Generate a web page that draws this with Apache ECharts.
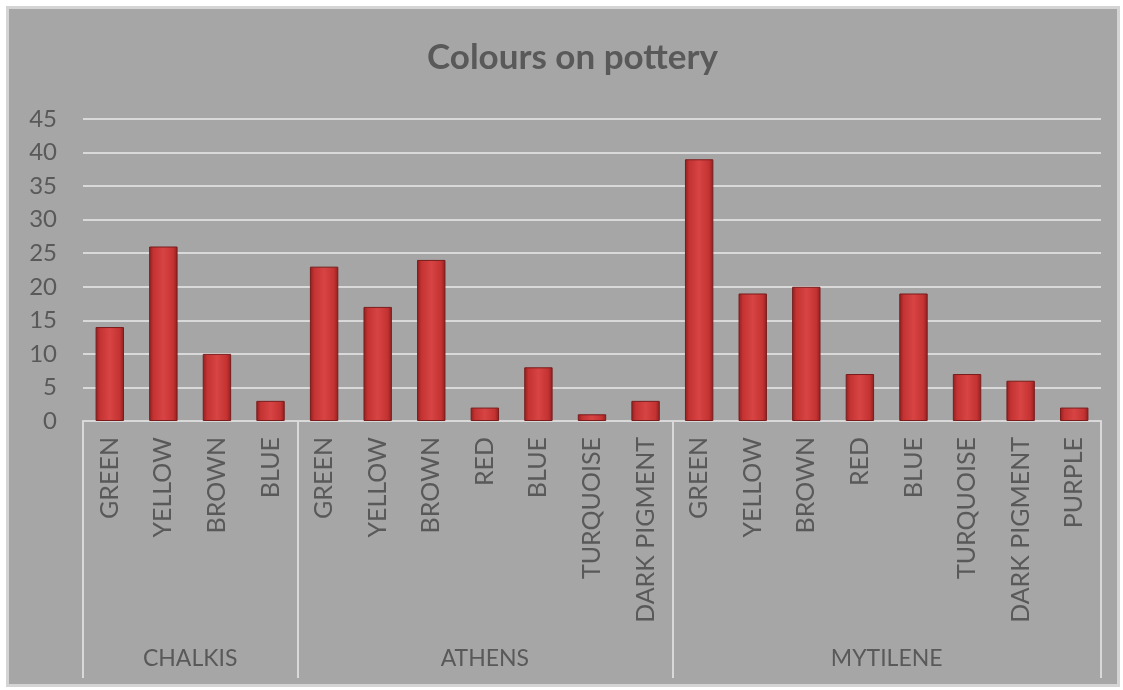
<!DOCTYPE html>
<html>
<head>
<meta charset="utf-8">
<script src="https://cdn.jsdelivr.net/npm/echarts@6/dist/echarts.min.js"></script>
<style>
  html, body { margin: 0; padding: 0; background: #fff; }
  #chart {
    position: absolute; left: 6px; top: 6px;
    width: 1108px; height: 675px;
    border: 3px solid #d4d4d4;
  }
</style>
</head>
<body>
<div id="chart"></div>
<script>
// groups on the bottom axis
var groups = ['CHALKIS', 'ATHENS', 'MYTILENE'];
var groupSizes = [4, 7, 8];

// colours found, per site (flattened, in group order)
var categories = [
  'GREEN', 'YELLOW', 'BROWN', 'BLUE',
  'GREEN', 'YELLOW', 'BROWN', 'RED', 'BLUE', 'TURQUOISE', 'DARK PIGMENT',
  'GREEN', 'YELLOW', 'BROWN', 'RED', 'BLUE', 'TURQUOISE', 'DARK PIGMENT', 'PURPLE'
];
var values = [
  14, 26, 10, 3,
  23, 17, 24, 2, 8, 1, 3,
  39, 19, 20, 7, 19, 7, 6, 2
];

// group boundaries and centres on a 0..N scale
var bounds = [0];
var centres = [];
groupSizes.forEach(function (n, i) {
  centres.push(bounds[i] + n / 2);
  bounds.push(bounds[i] + n);
});

var chartDom = document.getElementById('chart');
var myChart = echarts.init(chartDom);
var font = 'Lato, "Open Sans", sans-serif';
var txt = '#595959';
var light = '#d9d9d9';

var option = {
  backgroundColor: '#a6a6a6',
  animation: false,
  title: {
    text: 'Colours on pottery',
    left: 413,
    top: 26,
    padding: 5,
    textStyle: { fontFamily: font, fontSize: 35, fontWeight: 'bold', color: txt }
  },
  grid: { left: 74, right: 16, top: 110, bottom: 263 },
  xAxis: [
    {
      type: 'category',
      data: categories,
      axisLine: { lineStyle: { color: light, width: 2 } },
      axisTick: { show: false },
      axisLabel: {
        interval: 0,
        rotate: 90,
        margin: 16,
        fontFamily: font,
        fontSize: 25,
        color: txt
      }
    },
    {
      type: 'value',
      position: 'bottom',
      min: 0,
      max: bounds[bounds.length - 1],
      axisLine: { show: false },
      splitLine: { show: false },
      axisTick: {
        show: true,
        customValues: bounds,
        length: 257,
        lineStyle: { color: light, width: 2 }
      },
      axisLabel: {
        customValues: centres,
        margin: 226,
        fontFamily: font,
        fontSize: 23,
        color: txt,
        formatter: function (v) {
          return groups[centres.indexOf(v)] || '';
        }
      }
    }
  ],
  yAxis: {
    type: 'value',
    min: 0,
    max: 45,
    interval: 5,
    axisLine: { show: false },
    axisTick: { show: false },
    splitLine: { lineStyle: { color: light, width: 2 } },
    axisLabel: { margin: 26, fontFamily: font, fontSize: 24, color: txt }
  },
  series: [
    {
      type: 'bar',
      data: values,
      barCategoryGap: '47%',
      itemStyle: {
        borderColor: '#7a1c1c',
        borderWidth: 1,
        color: {
          type: 'linear', x: 0, y: 0, x2: 1, y2: 0,
          colorStops: [
            { offset: 0, color: '#8c2020' },
            { offset: 0.15, color: '#c43232' },
            { offset: 0.5, color: '#d84444' },
            { offset: 0.85, color: '#c43232' },
            { offset: 1, color: '#8c2020' }
          ]
        }
      }
    }
  ]
};
option && myChart.setOption(option);
</script>
</body>
</html>
